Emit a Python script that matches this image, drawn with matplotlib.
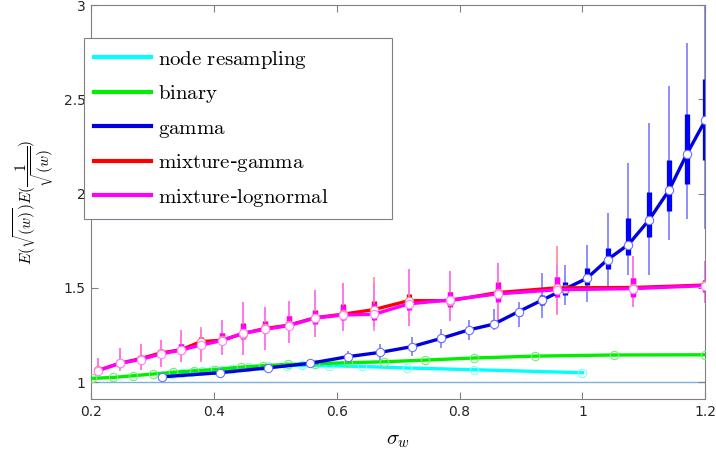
import numpy as np
import matplotlib
matplotlib.use("Agg")
import matplotlib.pyplot as plt
from matplotlib.patches import Rectangle

plt.rcParams['mathtext.fontset'] = 'cm'

# node resampling (no boxes)
x_node = [0.315, 0.332, 0.348, 0.364, 0.380, 0.397, 0.413, 0.430, 0.456, 0.489,
          0.519, 0.543, 0.587, 0.641, 0.715, 0.823, 1.0]
y_node = [1.035, 1.042, 1.048, 1.053, 1.058, 1.062, 1.066, 1.070, 1.078, 1.085,
          1.088, 1.089, 1.087, 1.083, 1.075, 1.066, 1.050]

# binary (no boxes)
x_bin = [0.202, 0.236, 0.269, 0.301, 0.334, 0.367, 0.402, 0.445, 0.480, 0.520,
         0.565, 0.618, 0.677, 0.744, 0.824, 0.923, 1.051, 1.2]
y_bin = [1.020, 1.025, 1.034, 1.043, 1.052, 1.060, 1.067, 1.080, 1.087, 1.094,
         1.098, 1.103, 1.108, 1.117, 1.128, 1.138, 1.144, 1.145]

# gamma
x_gam = [0.315, 0.410, 0.489, 0.557, 0.618, 0.671, 0.722, 0.770, 0.815, 0.856,
         0.896, 0.935, 0.972, 1.007, 1.041, 1.075, 1.108, 1.141, 1.170, 1.2]
y_gam = [1.028, 1.050, 1.076, 1.100, 1.135, 1.158, 1.188, 1.232, 1.277, 1.308,
         1.374, 1.436, 1.495, 1.550, 1.650, 1.730, 1.858, 2.018, 2.210, 2.388]
q1_gam = [1.025, 1.045, 1.070, 1.090, 1.125, 1.145, 1.175, 1.215, 1.260, 1.290,
          1.350, 1.410, 1.463, 1.516, 1.600, 1.675, 1.770, 1.910, 2.050, 2.177]
q3_gam = [1.032, 1.055, 1.085, 1.110, 1.145, 1.170, 1.200, 1.250, 1.295, 1.330,
          1.390, 1.460, 1.533, 1.606, 1.710, 1.870, 2.010, 2.180, 2.420, 2.610]
lo_gam = [1.020, 1.035, 1.060, 1.075, 1.105, 1.120, 1.140, 1.180, 1.223, 1.277,
          1.294, 1.339, 1.410, 1.427, 1.507, 1.570, 1.570, 1.755, 1.867, 1.810]
hi_gam = [1.040, 1.065, 1.095, 1.125, 1.165, 1.200, 1.240, 1.280, 1.330, 1.390,
          1.427, 1.578, 1.620, 1.730, 1.897, 2.163, 2.375, 2.570, 2.800, 3.300]

# mixture-gamma / mixture-lognormal share sigma_w grid
x_mix = [0.211, 0.247, 0.281, 0.314, 0.347, 0.379, 0.413, 0.448, 0.484, 0.522,
         0.565, 0.610, 0.661, 0.717, 0.784, 0.862, 0.958, 1.083, 1.2]

y_mg = [1.062, 1.100, 1.125, 1.155, 1.172, 1.215, 1.222, 1.258, 1.285, 1.302,
        1.342, 1.360, 1.385, 1.432, 1.432, 1.475, 1.500, 1.502, 1.515]
q1_mg = [1.050, 1.090, 1.110, 1.140, 1.160, 1.206, 1.200, 1.235, 1.262, 1.288,
         1.315, 1.335, 1.370, 1.420, 1.405, 1.435, 1.515, 1.455, 1.490]
q3_mg = [1.072, 1.112, 1.138, 1.162, 1.200, 1.240, 1.262, 1.312, 1.322, 1.352,
         1.382, 1.412, 1.430, 1.470, 1.480, 1.530, 1.560, 1.550, 1.540]
lo_mg = [1.040, 1.060, 1.064, 1.080, 1.108, 1.108, 1.144, 1.144, 1.170, 1.210,
         1.240, 1.273, 1.290, 1.300, 1.326, 1.330, 1.356, 1.400, 1.420]
hi_mg = [1.130, 1.180, 1.200, 1.223, 1.277, 1.294, 1.330, 1.427, 1.400, 1.430,
         1.490, 1.525, 1.560, 1.600, 1.587, 1.630, 1.720, 1.670, 1.640]

y_ml = [1.060, 1.100, 1.120, 1.150, 1.170, 1.197, 1.220, 1.260, 1.280, 1.300,
        1.340, 1.356, 1.360, 1.415, 1.436, 1.468, 1.490, 1.496, 1.512]
q1_ml = [1.050, 1.090, 1.110, 1.140, 1.160, 1.180, 1.200, 1.230, 1.260, 1.285,
         1.310, 1.330, 1.330, 1.383, 1.400, 1.427, 1.450, 1.450, 1.480]
q3_ml = [1.070, 1.110, 1.135, 1.160, 1.200, 1.210, 1.260, 1.310, 1.320, 1.350,
         1.380, 1.410, 1.420, 1.445, 1.480, 1.525, 1.560, 1.550, 1.540]
lo_ml = [1.040, 1.064, 1.064, 1.080, 1.108, 1.120, 1.144, 1.144, 1.170, 1.210,
         1.240, 1.273, 1.270, 1.300, 1.326, 1.330, 1.365, 1.400, 1.420]
hi_ml = [1.128, 1.180, 1.200, 1.223, 1.277, 1.280, 1.330, 1.427, 1.400, 1.430,
         1.490, 1.525, 1.525, 1.600, 1.587, 1.630, 1.620, 1.670, 1.640]

labels = [r'$\mathrm{node\ resampling}$', r'$\mathrm{binary}$', r'$\mathrm{gamma}$',
          r'$\mathrm{mixture}$-$\mathrm{gamma}$', r'$\mathrm{mixture}$-$\mathrm{lognormal}$']

fig = plt.figure(figsize=(7.16, 4.63), dpi=100)
ax = fig.add_axes([0.127, 0.138, 0.858, 0.851])

ax.axhline(1.0, color='#7fb0dd', lw=1.0, zorder=1)


def boxes(x, q1, q3, lo, hi, col, wcol, z):
    ax.vlines(x, lo, hi, colors=wcol, lw=1.1, zorder=z)
    ax.vlines(x, q1, q3, colors=col, lw=3.8, zorder=z)


boxes(x_gam, q1_gam, q3_gam, lo_gam, hi_gam, '#0000ff', '#6f6fff', 3)
boxes(x_mix, q1_mg, q3_mg, lo_mg, hi_mg, '#ff0000', '#ff8080', 4)
boxes(x_mix, q1_ml, q3_ml, lo_ml, hi_ml, '#ff00ff', '#ff70ff', 5)

lines = []
lines += ax.plot(x_node, y_node, color='#00ffff', lw=2.4, marker='o', ms=6,
                 mfc='none', mec='#80ffff', mew=0.8, zorder=6)
lines += ax.plot(x_bin, y_bin, color='#00ee00', lw=2.4, marker='o', ms=6,
                 mfc='none', mec='#70f070', mew=0.8, zorder=6)
lines += ax.plot(x_gam, y_gam, color='#0000dd', lw=2.4, marker='o', ms=6,
                 mfc='white', mec='#7070ff', mew=0.8, zorder=7)
lines += ax.plot(x_mix, y_mg, color='#ff0000', lw=2.4, marker='o', ms=6,
                 mfc='white', mec='#ff8080', mew=0.8, zorder=7)
lines += ax.plot(x_mix, y_ml, color='#ff00ff', lw=2.4, marker='o', ms=6,
                 mfc='white', mec='#ff80ff', mew=0.8, zorder=8)

ax.set_xlim(0.2, 1.2)
ax.set_ylim(0.91, 3.0)
ax.set_xticks([0.2, 0.4, 0.6, 0.8, 1.0, 1.2])
ax.set_xticklabels(['0.2', '0.4', '0.6', '0.8', '1', '1.2'])
ax.set_yticks([1, 1.5, 2, 2.5, 3])
ax.set_yticklabels(['1', '1.5', '2', '2.5', '3'])
ax.tick_params(direction='in', length=5, width=0.8, colors='#808080',
               labelcolor='#262626', labelsize=10, top=True, right=True, pad=4)
for s in ax.spines.values():
    s.set_color('#808080')
    s.set_linewidth(0.8)

ax.set_xlabel(r'$\sigma_w$', fontsize=15, labelpad=8)
ax.set_ylabel(r'$E(\sqrt{(w)})E(\dfrac{1}{\sqrt{(w)}})$', fontsize=11, labelpad=5)

# legend box (MATLAB-style wide frame), drawn separately
ax.add_patch(Rectangle((-0.0114, 0.457), 0.502, 0.459, transform=ax.transAxes,
                       clip_on=False, fc='white', ec='#808080', lw=0.8, zorder=19))

handles = [plt.Line2D([], [], color=l.get_color(), lw=3) for l in lines]
leg = ax.legend(handles, labels, loc='upper left', bbox_to_anchor=(-0.0114, 0.916),
                borderaxespad=0, fontsize=15, handlelength=2.7, handletextpad=0.35,
                labelspacing=0.6, frameon=False, borderpad=0.5)
leg.set_zorder(20)

fig.savefig('out.png', dpi=100)
